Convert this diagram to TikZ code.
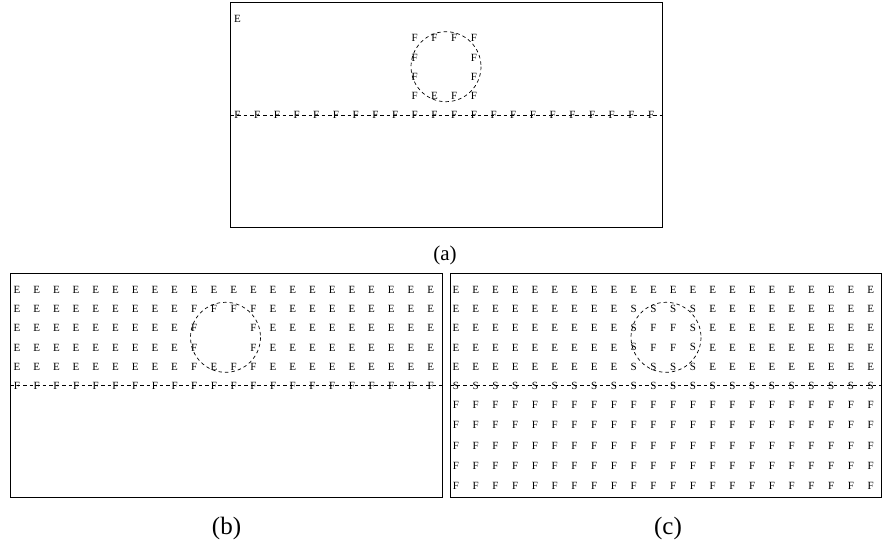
\documentclass[tikz,border=0pt]{standalone}
\usepackage{fontspec}
\setmainfont{Liberation Serif}

\begin{document}
\begin{tikzpicture}[
  x=1pt, y=-1pt,
  cell/.style={font=\fontsize{11}{11}\selectfont, inner sep=0pt},
  panel/.style={draw, line width=0.9pt},
  bound/.style={draw, dash pattern=on 3.5pt off 3pt, line width=0.7pt},
  caption/.style={font=\fontsize{25}{28}\selectfont, inner sep=0pt}
]
\useasboundingbox (0,0) rectangle (889,548);

% (a) initial state
\begin{scope}[shift={(230.5,2.7)}]
  \draw[panel] (0,0) rectangle (432.3,224.6);
  \node[cell] (a-0-0) at (7,16.5) {E};
  \foreach \c/\r/\t in {9/1/F,10/1/F,11/1/F,12/1/F,9/2/F,12/2/F,9/3/F,12/3/F,
                        9/4/F,10/4/E,11/4/F,12/4/F}
    \node[cell] (a-\c-\r) at ({7+19.7*\c},{16.5+19.2*\r}) {\t};
  \foreach \c in {0,...,21}
    \node[cell] (a-\c-5) at ({7+19.7*\c},112.5) {F};
  \draw[bound] (215.5,64) circle [radius=35];
  \draw[bound] (0,112.5) -- (432.3,112.5);
\end{scope}
\node[caption, font=\fontsize{21}{24}\selectfont] (capa) at (445,255) {(a)};

% (b) after first sweep
\begin{scope}[shift={(10,273.3)}]
  \draw[panel] (0,0) rectangle (432.5,224.4);
  \foreach \c in {0,...,21}
    \node[cell] (b-\c-0) at ({7+19.7*\c},16.5) {E};
  \foreach \r in {1,...,4}
    \foreach \c in {0,...,8,13,14,...,21}
      \node[cell] (b-\c-\r) at ({7+19.7*\c},{16.5+19.2*\r}) {E};
  \foreach \c/\r/\t in {9/1/F,10/1/F,11/1/F,12/1/F,9/2/F,12/2/F,9/3/F,12/3/F,
                        9/4/F,10/4/E,11/4/F,12/4/F}
    \node[cell] (b-\c-\r) at ({7+19.7*\c},{16.5+19.2*\r}) {\t};
  \foreach \c in {0,...,21}
    \node[cell] (b-\c-5) at ({7+19.7*\c},112.5) {F};
  \draw[bound] (215.5,64) circle [radius=35];
  \draw[bound] (0,112.5) -- (432.5,112.5);
\end{scope}
\node[caption] (capb) at (226.5,528.5) {(b)};

% (c) final state
\begin{scope}[shift={(450,273.3)}]
  \draw[panel] (0,0) rectangle (431.7,224);
  \foreach \c in {0,...,21}
    \node[cell] (c-\c-0) at ({6+19.75*\c},16.5) {E};
  \foreach \r in {1,...,4}
    \foreach \c in {0,...,8,13,14,...,21}
      \node[cell] (c-\c-\r) at ({6+19.75*\c},{16.5+19.2*\r}) {E};
  \foreach \c/\r/\t in {9/1/S,10/1/S,11/1/S,12/1/S,9/2/S,10/2/F,11/2/F,12/2/S,
                        9/3/S,10/3/F,11/3/F,12/3/S,9/4/S,10/4/S,11/4/S,12/4/S}
    \node[cell] (c-\c-\r) at ({6+19.75*\c},{16.5+19.2*\r}) {\t};
  \foreach \c in {0,...,21}
    \node[cell] (c-\c-5) at ({6+19.75*\c},112.5) {S};
  \foreach \r/\y in {6/131.7,7/152,8/172.3,9/192.6,10/213}
    \foreach \c in {0,...,21}
      \node[cell] (c-\c-\r) at ({6+19.75*\c},\y) {F};
  \draw[bound] (216,64) circle [radius=35];
  \draw[bound] (0,112.5) -- (431.7,112.5);
\end{scope}
\node[caption] (capc) at (668,528.5) {(c)};
\end{tikzpicture}
\end{document}
